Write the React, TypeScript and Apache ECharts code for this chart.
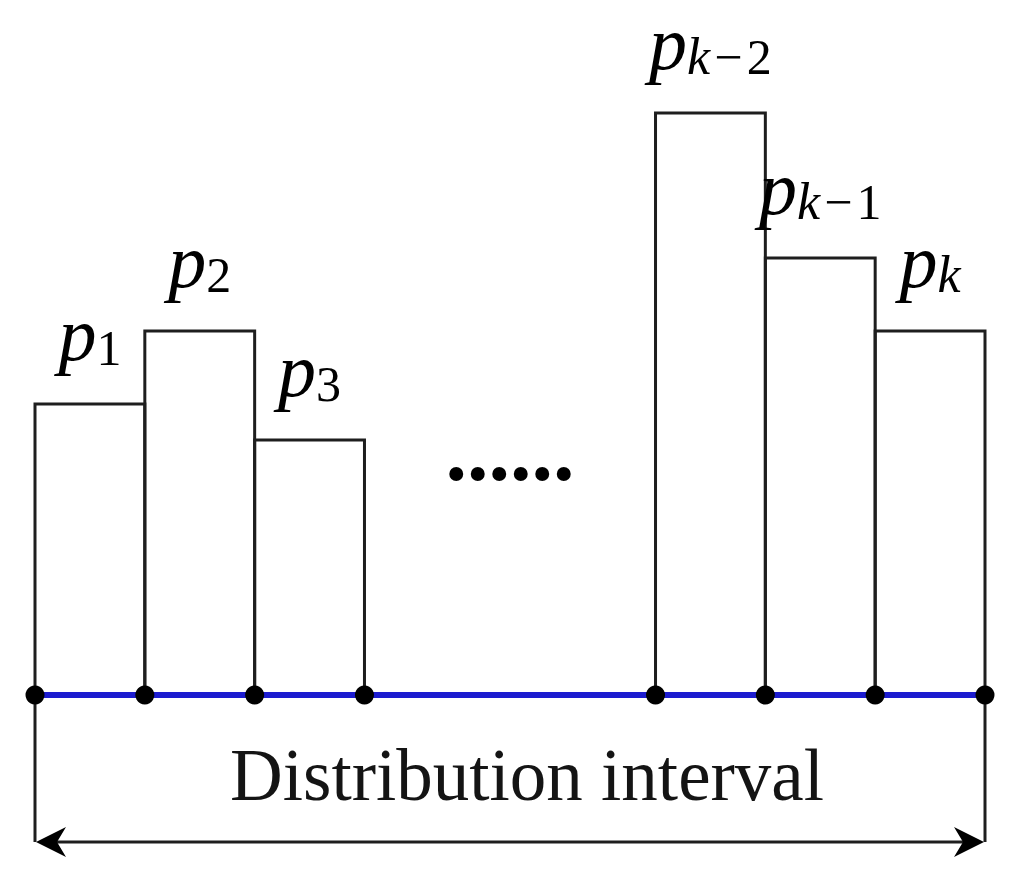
import React, { useEffect, useRef } from "react";
import * as echarts from "echarts";

// Bin edges along the distribution interval (in bin-width units)
const binEdges = [0, 1, 2, 3, 5.65, 6.65, 7.65, 8.65];
// Each bin: start, end
const binStarts = [0, 1, 2, 5.65, 6.65, 7.65];
const binEnds = [1, 2, 3, 6.65, 7.65, 8.65];
// Bin heights (probabilities, arbitrary units)
const binHeights = [2.91, 3.64, 2.55, 5.82, 4.37, 3.64];
// Subscripts of the p labels
const binSubs = ["1", "2", "3", "k−2", "k−1", "k"];
const axisTitle = "Distribution interval";
const gapText = "......";

const FONT = "'Liberation Serif', 'Times New Roman', serif";
const INK = "#141414";
const HAIR = "\u200A";

function labelText(sub: string): string {
  let s = "{p|p}";
  for (const ch of sub) {
    if (ch === "k") s += `{sk|k}`;
    else if (ch === "−") s += `{sn|${HAIR}−${HAIR}}`;
    else s += `{sn|${ch}}`;
  }
  return s;
}

export default function App() {
  const ref = useRef<HTMLDivElement>(null);
  useEffect(() => {
    if (!ref.current) return;
    const chart = echarts.init(ref.current, undefined, { renderer: "svg" });
    const data = binStarts.map((s, i) => [s, binEnds[i], binHeights[i]]);
    const option: any = {
      animation: false,
      backgroundColor: "#ffffff",
      grid: { left: 35, right: 30, top: 95, bottom: 185 },
      xAxis: {
        type: "value",
        min: binEdges[0],
        max: binEdges[binEdges.length - 1],
        axisLine: { show: true, lineStyle: { color: "#1c1ccf", width: 6 } },
        axisTick: { show: false },
        axisLabel: { show: false },
        splitLine: { show: false },
      },
      yAxis: {
        type: "value",
        min: 0,
        max: 6,
        show: false,
        splitLine: { show: false },
      },
      series: [
        {
          type: "custom",
          data,
          clip: false,
          z: 3,
          renderItem: (params: any, api: any) => {
            const x0 = api.value(0);
            const x1 = api.value(1);
            const h = api.value(2);
            const bl = api.coord([x0, 0]);
            const tr = api.coord([x1, h]);
            const idx = params.dataIndex;
            return {
              type: "group",
              children: [
                {
                  type: "polyline",
                  shape: {
                    points: [
                      [bl[0], bl[1]],
                      [bl[0], tr[1]],
                      [tr[0], tr[1]],
                      [tr[0], bl[1]],
                    ],
                  },
                  style: { stroke: "#1e1e1e", lineWidth: 3, fill: null, lineJoin: "miter" },
                },
                {
                  type: "text",
                  x: (bl[0] + tr[0]) / 2,
                  y: tr[1] - 31,
                  style: {
                    text: labelText(binSubs[idx]),
                    align: "center",
                    verticalAlign: "bottom",
                    rich: {
                      p: { fontFamily: FONT, fontStyle: "italic", fontSize: 76, color: INK, lineHeight: 76, verticalAlign: "top" },
                      sk: { fontFamily: FONT, fontStyle: "italic", fontSize: 52, color: INK, lineHeight: 77, verticalAlign: "bottom" },
                      sn: { fontFamily: FONT, fontSize: 50, color: INK, lineHeight: 77, verticalAlign: "bottom" },
                    },
                  },
                },
              ],
            };
          },
        },
        {
          type: "scatter",
          data: binEdges.map((e) => [e, 0]),
          symbol: "circle",
          symbolSize: 19,
          itemStyle: { color: "#000000", opacity: 1 },
          clip: false,
          z: 5,
        },
      ],
    };
    chart.setOption(option);

    const pl = chart.convertToPixel({ gridIndex: 0 }, [binEdges[0], 0]) as number[];
    const pr = chart.convertToPixel({ gridIndex: 0 }, [binEdges[binEdges.length - 1], 0]) as number[];
    const pg0 = chart.convertToPixel({ gridIndex: 0 }, [binEdges[3], 0]) as number[];
    const pg1 = chart.convertToPixel({ gridIndex: 0 }, [binEdges[4], 0]) as number[];
    const xl = pl[0];
    const xr = pr[0];
    const yb = pl[1];
    const ya = yb + 147;
    const lineStyle = { stroke: "#1e1e1e", lineWidth: 3 };
    chart.setOption({
      graphic: [
        { type: "line", shape: { x1: xl, y1: yb, x2: xl, y2: ya }, style: lineStyle, z: 1 },
        { type: "line", shape: { x1: xr, y1: yb, x2: xr, y2: ya }, style: lineStyle, z: 1 },
        { type: "line", shape: { x1: xl + 10, y1: ya, x2: xr - 10, y2: ya }, style: lineStyle, z: 1 },
        {
          type: "polygon",
          shape: { points: [[xl + 1, ya], [xl + 31, ya - 15], [xl + 22, ya], [xl + 31, ya + 15]] },
          style: { fill: "#000" },
          z: 2,
        },
        {
          type: "polygon",
          shape: { points: [[xr - 1, ya], [xr - 31, ya - 15], [xr - 22, ya], [xr - 31, ya + 15]] },
          style: { fill: "#000" },
          z: 2,
        },
        {
          type: "text",
          x: (xl + xr) / 2 + 17,
          y: yb + 80,
          style: {
            text: axisTitle,
            fontFamily: FONT,
            fontSize: 73,
            fill: INK,
            align: "center",
            verticalAlign: "middle",
          },
          z: 2,
        },
        {
          type: "text",
          x: (pg0[0] + pg1[0]) / 2,
          y: yb - 244,
          style: {
            text: gapText,
            fontFamily: FONT,
            fontSize: 86,
            fontWeight: "bold",
            fill: "#000",
            align: "center",
            verticalAlign: "middle",
          },
          z: 2,
        },
      ],
    });

    return () => chart.dispose();
  }, []);
  return (
    <div
      ref={ref}
      style={{ position: "fixed", left: 0, top: 0, width: 1015, height: 880, background: "#fff" }}
    />
  );
}
